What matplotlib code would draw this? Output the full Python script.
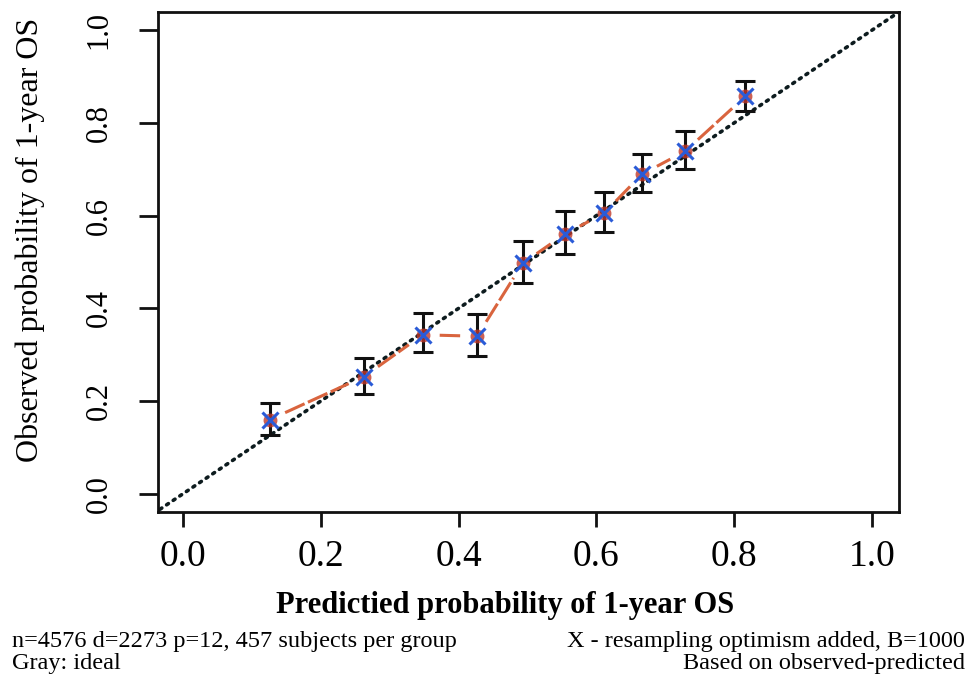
import numpy as np
import matplotlib
matplotlib.use("Agg")
import matplotlib.pyplot as plt

# Data
predicted = [0.126, 0.263, 0.348, 0.427, 0.493, 0.554, 0.611, 0.666, 0.729, 0.816]
observed = [0.160, 0.253, 0.343, 0.340, 0.497, 0.560, 0.605, 0.689, 0.739, 0.857]
lower = [0.127, 0.216, 0.305, 0.298, 0.454, 0.518, 0.564, 0.650, 0.700, 0.825]
upper = [0.197, 0.294, 0.391, 0.387, 0.546, 0.609, 0.650, 0.732, 0.782, 0.890]
ticks = [0.0, 0.2, 0.4, 0.6, 0.8, 1.0]
tick_labels = ["0.0", "0.2", "0.4", "0.6", "0.8", "1.0"]

plt.rcParams['font.family'] = ['Liberation Serif', 'DejaVu Serif']

fig = plt.figure(figsize=(9.7, 6.76), dpi=100)
ax = fig.add_axes([158/970, 1-512/676, (899-158)/970, (512-12)/676])
ax.set_xlim(-0.036, 1.039)
ax.set_ylim(-0.039, 1.039)

# ideal diagonal
ax.plot([-0.1, 1.1], [-0.1, 1.1], linestyle=(0, (0.6, 1.6)), color='#0d1b1e',
        lw=2.6, dash_capstyle='round', zorder=2)

# orange connecting line with gaps near points (R type "b")
fig.canvas.draw()
trans = ax.transData
inv = trans.inverted()
pts = trans.transform(np.column_stack([predicted, observed]))
gap = 17
for i in range(len(pts) - 1):
    p0, p1 = pts[i], pts[i + 1]
    d = p1 - p0
    L = np.hypot(*d)
    if L <= 2 * gap:
        continue
    u = d / L
    a = inv.transform(p0 + u * gap)
    b = inv.transform(p1 - u * gap)
    ax.plot([a[0], b[0]], [a[1], b[1]], color='#d9643e', lw=2.2,
            linestyle=(0, (7, 1.2)), zorder=3)

# error bars
yerr = [np.array(observed) - np.array(lower), np.array(upper) - np.array(observed)]
ax.errorbar(predicted, observed, yerr=yerr, fmt='none', ecolor='#111111',
            elinewidth=2.2, capsize=7.5, capthick=2.2, zorder=4)
ax.plot(predicted, observed, 'o', color='#c0392b', ms=10, mec='none', alpha=0.8, zorder=5)
ax.plot(predicted, observed, 'x', color='#2a5bd7', ms=12, mew=2.2, zorder=6)

ax.set_xticks(ticks)
ax.set_xticklabels(tick_labels, fontsize=27)
ax.set_yticks(ticks)
ax.set_yticklabels(tick_labels, fontsize=22, rotation=90, va='center')
ax.tick_params(axis='x', length=11, width=2, pad=9, color='#111111')
ax.tick_params(axis='y', length=14, width=2, pad=18, color='#111111')
for s in ax.spines.values():
    s.set_linewidth(2)
    s.set_color('#111111')

fig.text(505/970, 1-605/676, "Predictied probability of 1-year OS", fontsize=22,
         fontweight='bold', ha='center', va='center')
fig.text(30/970, 1-240/676, "Observed probability of 1-year OS", fontsize=23,
         rotation=90, ha='center', va='center')

fig.text(12/970, 1-641/676, "n=4576 d=2273 p=12, 457 subjects per group", fontsize=17.5, va='center', ha='left')
fig.text(12/970, 1-663/676, "Gray: ideal", fontsize=17.5, va='center', ha='left')
fig.text(965/970, 1-641/676, "X - resampling optimism added, B=1000", fontsize=17.5, va='center', ha='right')
fig.text(965/970, 1-663/676, "Based on observed-predicted", fontsize=17.5, va='center', ha='right')

fig.savefig("out.png", dpi=100)
